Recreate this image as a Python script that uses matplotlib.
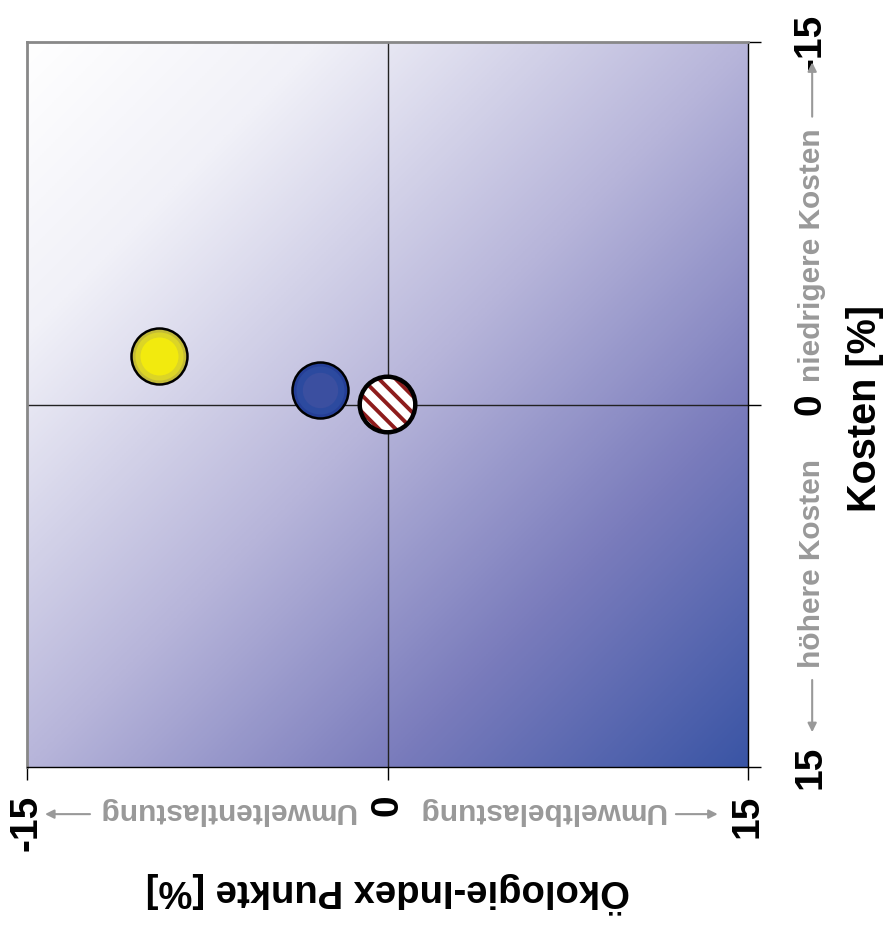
import numpy as np
import matplotlib
matplotlib.use("Agg")
import matplotlib.pyplot as plt
from matplotlib.colors import LinearSegmentedColormap

# Ökologie-Index (horizontal) und Kosten (vertikal), in %
varianten = ["gelb", "blau", "referenz"]
oeko = [-9.5, -2.8, 0.0]
kosten = [-2.0, -0.6, 0.0]

ticks = [-15, 0, 15]
tick_labels = ["-15", "0", "15"]

plt.rcParams['font.family'] = ['Liberation Sans', 'DejaVu Sans']
plt.rcParams['font.weight'] = 'bold'
plt.rcParams['hatch.color'] = '#8e1c1c'
plt.rcParams['hatch.linewidth'] = 2.8

fig = plt.figure(figsize=(8.88, 9.36), dpi=100)
ax = fig.add_axes([27/888, 1-767/936, 721/888, 725/936])

# background gradient, white top-left -> blue bottom-right
cmap = LinearSegmentedColormap.from_list(
    "bg", [(0, "#ffffff"), (0.2, "#f1f1f8"), (0.5, "#b7b5da"),
           (0.75, "#7a7cbc"), (1, "#3a55a5")])
g = np.add.outer(np.linspace(0, 1, 400), np.linspace(0, 1, 400)) / 2
ax.imshow(g, cmap=cmap, extent=[-15, 15, 15, -15], aspect='auto', zorder=0,
          interpolation='bilinear')

ax.set_xlim(-15, 15)
ax.set_ylim(15, -15)
ax.axhline(0, color='#222222', lw=1, zorder=1)
ax.axvline(0, color='#222222', lw=1, zorder=1)

# yellow
ax.scatter(oeko[0], kosten[0], s=1625, c='#c3bb36', edgecolors='black', linewidths=1.8, zorder=3)
ax.scatter(oeko[0], kosten[0], s=1200, c='#dcd526', linewidths=0, zorder=4)
ax.scatter(oeko[0], kosten[0], s=750, c='#f2ea0e', linewidths=0, zorder=5)
# blue
ax.scatter(oeko[1], kosten[1], s=1625, c='#253f97', edgecolors='black', linewidths=1.8, zorder=3)
ax.scatter(oeko[1], kosten[1], s=1200, c='#2c4a9f', linewidths=0, zorder=4)
ax.scatter(oeko[1], kosten[1], s=650, c='#3b4fa0', linewidths=0, zorder=5)
# reference, hatched
ax.scatter(oeko[2], kosten[2], s=1600, facecolor='white', edgecolors='none',
           hatch='\\\\', zorder=3)
ax.scatter(oeko[2], kosten[2], s=1600, facecolor='none', edgecolors='black',
           linewidths=3.2, zorder=4)

# frame
for s in ['top', 'left']:
    ax.spines[s].set_color('#888888')
    ax.spines[s].set_linewidth(2)
for s in ['bottom', 'right']:
    ax.spines[s].set_color('black')
    ax.spines[s].set_linewidth(1)

ax.yaxis.tick_right()
ax.set_xticks(ticks)
ax.set_xticklabels(tick_labels, rotation=90, fontsize=28, fontweight='bold')
ax.set_yticks(ticks)
ax.set_yticklabels(tick_labels, rotation=90, fontsize=28, fontweight='bold', va='center')
ax.tick_params(axis='x', direction='out', length=9, width=1, pad=11)
ax.tick_params(axis='y', direction='out', length=9, width=1, pad=23)

ax.set_xlabel("Ökologie-Index Punkte [%]", rotation=180, fontsize=27.5, fontweight='bold')
ax.xaxis.set_label_coords(0.5, -0.145)
ax.yaxis.set_label_position('right')
ax.set_ylabel("Kosten [%]", rotation=90, fontsize=28.5, fontweight='bold')
ax.yaxis.set_label_coords(1.136, 0.495)

grau = '#999999'
kw = dict(transform=ax.transAxes, color=grau, fontsize=21.5, fontweight='bold',
          ha='center', va='center', clip_on=False)
ax.text(0.277, -0.0607, "Umweltentlastung", rotation=180, **kw)
ax.text(0.714, -0.0607, "Umweltbelastung", rotation=180, **kw)
ax.text(1.089, 0.706, "niedrigere Kosten", rotation=90, **kw)
ax.text(1.089, 0.28, "höhere Kosten", rotation=90, **kw)

ap = dict(arrowstyle='-|>', color=grau, lw=1.5, mutation_scale=13,
          shrinkA=0, shrinkB=0)
for start, end in [((0.0874, -0.065), (0.025, -0.065)),
                   ((0.9, -0.065), (0.958, -0.065)),
                   ((1.089, 0.897), (1.089, 0.972)),
                   ((1.089, 0.12), (1.089, 0.048))]:
    ax.annotate("", xy=end, xytext=start, xycoords='axes fraction',
                textcoords='axes fraction', arrowprops=ap, annotation_clip=False)

fig.savefig("out.png", dpi=100)
